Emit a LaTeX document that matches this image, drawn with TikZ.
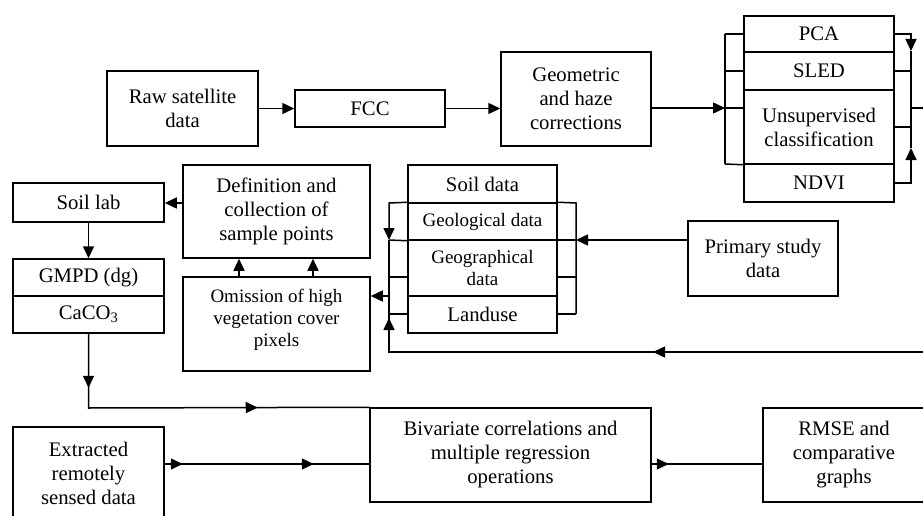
\documentclass[tikz,border=0pt]{standalone}
\usepackage{fontspec}
\setmainfont{Liberation Serif}
\usetikzlibrary{arrows.meta,decorations.markings}
\tikzset{
  tri/.tip={Triangle[length=12pt,width=11pt]},
  box/.style={draw, rectangle, inner sep=0pt, line width=1.5pt, align=center,
              font=\fontsize{20.7}{24}\selectfont},
  sbox/.style={box, font=\fontsize{19}{22}\selectfont},
  ln/.style={line width=1.5pt},
  arr/.style={ln, -tri},
}
\begin{document}
\begin{tikzpicture}[x=1pt,y=-1pt]
\useasboundingbox (0,0) rectangle (923,516);
\clip (0,0) rectangle (923,516);
% top row
\node[box, minimum width=151pt, minimum height=75pt] (raw) at (182.5,108.5) {Raw satellite\\data};
\node[box, minimum width=150pt, minimum height=37pt] (fcc) at (370,108.5) {FCC};
\node[box, minimum width=150pt, minimum height=94pt] (geo) at (576,99) {Geometric\\and haze\\corrections};
% processing stack
\node[box, minimum width=150pt, minimum height=36pt] (pca) at (819,34) {PCA};
\node[box, minimum width=150pt, minimum height=38pt] (sled) at (819,71) {SLED};
\node[box, minimum width=150pt, minimum height=74pt] (unsup) at (819,127) {Unsupervised\\classification};
\node[box, minimum width=150pt, minimum height=38pt] (ndvi) at (819,183) {NDVI};
% left column
\node[box, minimum width=151pt, minimum height=39pt] (soillab) at (88.5,202.5) {Soil lab};
\node[box, minimum width=151pt, minimum height=37pt] (gmpd) at (88.5,277.5) {GMPD (dg)};
\node[box, minimum width=151pt, minimum height=37pt] (caco) at (88.5,314.5) {CaCO\textsubscript{3}};
\node[box, minimum width=187pt, minimum height=93pt] (defn) at (276.5,211.5) {Definition and\\collection of\\sample points};
\node[sbox, minimum width=187pt, minimum height=94pt] (omis) at (276.5,324) {Omission of high\\vegetation cover\\pixels\\[-10pt]};
% soil data stack
\node[box, minimum width=149pt, minimum height=38pt] (soil) at (482.5,184) {Soil data};
\node[sbox, minimum width=149pt, minimum height=37pt] (geol) at (482.5,221.5) {Geological data};
\node[sbox, minimum width=149pt, minimum height=56pt] (geog) at (482.5,268) {Geographical\\data};
\node[box, minimum width=149pt, minimum height=37pt] (land) at (482.5,314.5) {Landuse};
\node[box, minimum width=150pt, minimum height=75pt] (prim) at (763,258.5) {Primary study\\data};
% bottom row
\node[box, minimum width=151pt, minimum height=93pt] (extr) at (88.5,473.5) {Extracted\\remotely\\sensed data};
\node[box, minimum width=281pt, minimum height=94pt] (biv) at (510.5,455) {Bivariate correlations and\\multiple regression\\operations};
\node[box, minimum width=162pt, minimum height=94pt] (rmse) at (844,455) {RMSE and\\comparative\\graphs};
% coordinates
\coordinate (lb) at (725,108);
\coordinate (lbT) at (725,34);
\coordinate (lbS) at (725,71);
\coordinate (lbB) at (725,164);
\coordinate (rbT) at (911,34);
\coordinate (rbA) at (911,51);
\coordinate (rbS) at (911,71);
\coordinate (rbO) at (911,108);
\coordinate (rbU) at (911,127);
\coordinate (rbC) at (911,148);
\coordinate (rbB) at (911,183);
\coordinate (outR) at (935,108);
\coordinate (retR) at (935,352);
\coordinate (retL) at (389,352);
\coordinate (sl1) at (389,203);
\coordinate (sl2) at (389,240);
\coordinate (sl3) at (389,277);
\coordinate (sl4) at (389,296);
\coordinate (sl5) at (389,314);
\coordinate (sr1) at (576,203);
\coordinate (sr2) at (576,240);
\coordinate (sr3) at (576,277);
\coordinate (sr4) at (576,314);
\coordinate (dl) at (183,203);
\coordinate (om1) at (239,277);
\coordinate (om2) at (313,277);
\coordinate (cc1) at (88.5,408);
% top flow
\draw[arr] (raw) -- (fcc);
\draw[arr] (fcc.east) -- (geo.west |- fcc.east);
\draw[arr] (geo.east |- lb) -- (lb);
\draw[ln] (lbT) -- (lbB);
\draw[ln] (lbT) -- (pca.west);
\draw[ln] (lbS) -- (sled.west);
\draw[ln] (lb) -- (unsup.west |- lb);
\draw[ln] (lbB) -- (unsup.south west);
% right bracket of processing stack
\draw[arr] (pca.east) -- (rbT) -- (rbA);
\draw[ln] (rbA) -- (rbC);
\draw[arr] (ndvi.east) -- (rbB) -- (rbC);
\draw[ln] (sled.east) -- (rbS);
\draw[ln] (unsup.east) -- (rbU);
\draw[ln] (rbO) -- (outR);
% return line
\draw[ln, postaction={decorate}, decoration={markings,
   mark=at position 282pt with {\arrow{tri}},
   mark=at position 580pt with {\arrow{tri}}}]
   (retR) -- (retL) -- (sl5);
% soil stack brackets
\draw[arr] (geol.north west) -- (sl1) -- (sl2);
\draw[ln] (sl2) -- (sl5);
\draw[ln] (sl2) -- (geol.south west);
\draw[ln] (sl3) -- (sl3 -| geog.west);
\draw[ln] (sl5) -- (sl5 -| land.west);
\draw[arr] (sl4) -- (sl4 -| omis.east);
\draw[ln] (geol.north east) -- (sr1) -- (sr4);
\draw[ln] (sr3 -| geog.east) -- (sr3);
\draw[ln] (sr4 -| land.east) -- (sr4);
\draw[ln] (sr2 -| geol.east) -- (sr2);
\draw[arr] (sr2 -| prim.west) -- (sr2);
% definition / soil lab
\draw[arr] (dl) -- (dl -| soillab.east);
\draw[arr] (soillab) -- (gmpd);
\draw[arr] (om1) -- (om1 |- defn.south);
\draw[arr] (om2) -- (om2 |- defn.south);
% to bivariate
\draw[ln, postaction={decorate}, decoration={markings,
   mark=at position 54pt with {\arrow{tri}},
   mark=at position 243.5pt with {\arrow{tri}}}]
   (caco.south) -- (cc1) -- (biv.north west);
\draw[ln, postaction={decorate}, decoration={markings,
   mark=at position 18pt with {\arrow{tri}},
   mark=at position 149pt with {\arrow{tri}}}]
   (extr.east |- 164,464) -- (biv.west |- 164,464);
\draw[ln, postaction={decorate}, decoration={markings,
   mark=at position 17pt with {\arrow{tri}}}]
   (biv.east |- 651,464) -- (rmse.west |- 651,464);
\end{tikzpicture}
\end{document}
